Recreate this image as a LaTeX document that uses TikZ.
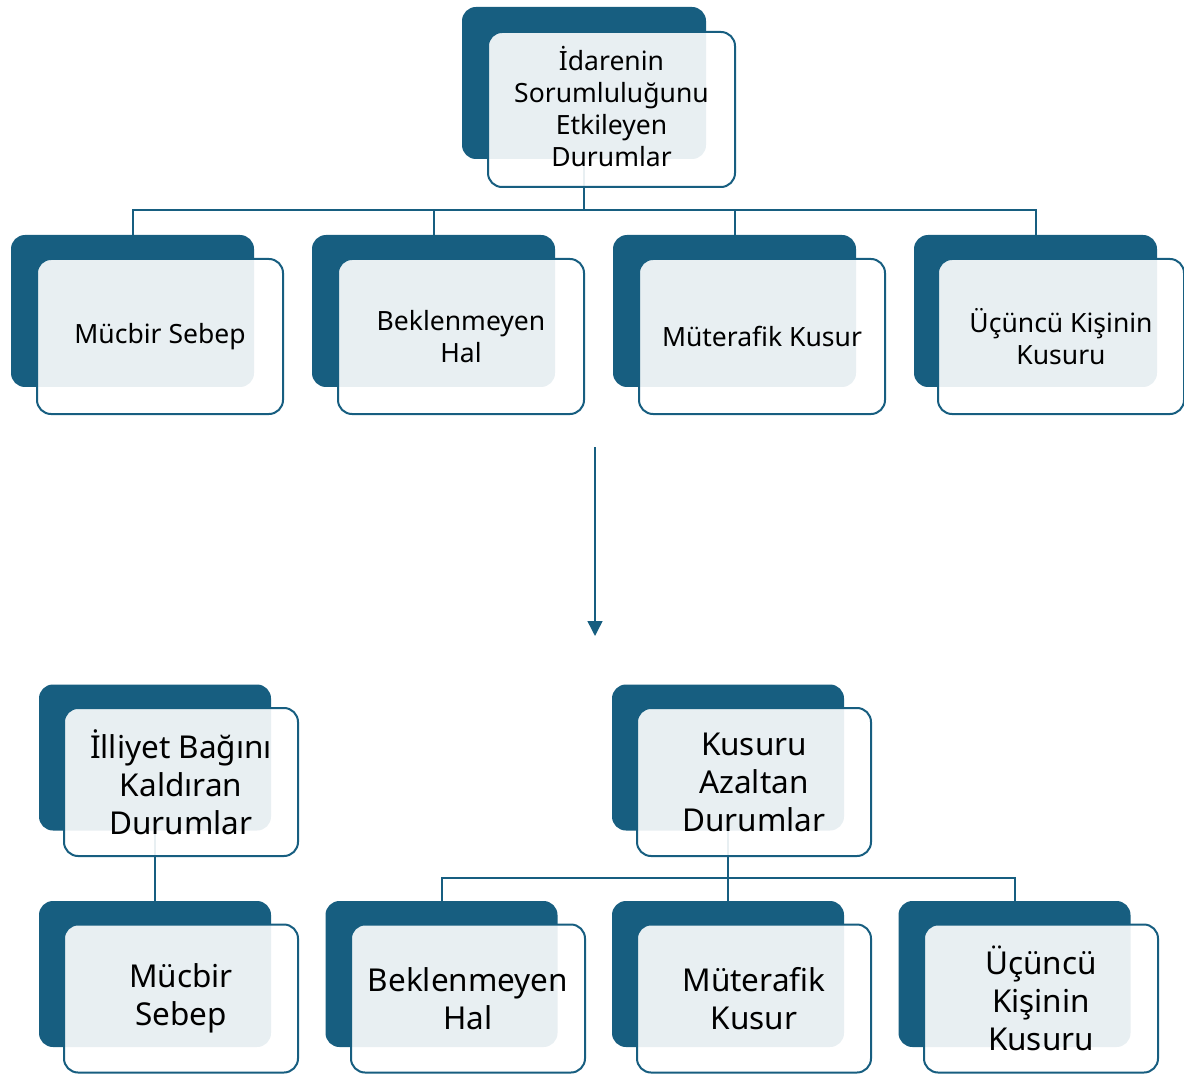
\documentclass[tikz,border=0pt]{standalone}
\usepackage{fontspec}
\setmainfont{Noto Sans}
\usetikzlibrary{arrows.meta}
\definecolor{darkteal}{RGB}{23,94,128}
\tikzset{
  back/.style={rectangle, rounded corners=14pt, fill=darkteal, inner sep=0pt},
  front/.style={rectangle, rounded corners=14pt, draw=darkteal, line width=2pt, fill=white, fill opacity=0.9, text opacity=1, align=center, inner sep=0pt},
  bigA/.style={minimum width=243pt, minimum height=152pt},
  bigB/.style={minimum width=246pt, minimum height=155pt, font=\fontsize{26.5}{32}\selectfont},
  smA/.style={minimum width=232pt, minimum height=146pt},
  smB/.style={minimum width=234pt, minimum height=148pt, font=\fontsize{31.5}{38}\selectfont},
  conn/.style={draw=darkteal, line width=2pt},
  label/.style={align=center, inner sep=0pt},
}
\begin{document}
\begin{tikzpicture}[x=1pt, y=-1pt]
\useasboundingbox (0,0) rectangle (1184,1075);
% coordinates for buses
\coordinate (bus1) at (584,210);
\coordinate (bus2) at (728,878);
% connectors first (behind)
\draw[conn] (584,83) -- (bus1);
\foreach \x in {132.5,433.5,734.5,1035.5} { \draw[conn] (bus1) -| (\x,311); }
\draw[conn] (155,757.5) -- (155,974);
\draw[conn] (728,757.5) -- (bus2);
\foreach \x in {441.5,728,1014.5} { \draw[conn] (bus2) -| (\x,974); }
% top
\node[back,minimum width=244pt,minimum height=152pt] (tb) at (584,83) {};
\node[front,minimum width=247pt,minimum height=155pt] (tf) at (611.5,109.5) {};
\node[label,font=\fontsize{26.5}{32}\selectfont] (tft) at (611.5,107) {İdarenin\\Sorumluluğunu\\Etkileyen\\Durumlar};
% row 1
\node[back,bigA] (a1b) at (132.5,311) {};
\node[front,bigB] (a1) at (160,336.5) {Mücbir Sebep};
\node[back,bigA] (a2b) at (433.5,311) {};
\node[front,bigB] (a2) at (461,336.5) {Beklenmeyen\\Hal};
\node[back,bigA] (a3b) at (734.5,311) {};
\node[front,bigB] (a3) at (762,336.5) {Müterafik Kusur};
\node[back,bigA] (a4b) at (1035.5,311) {};
\node[front,bigB] (a4) at (1061,336.5) {Üçüncü Kişinin\\Kusuru};
% arrow
\coordinate (arS) at (595,447);
\coordinate (arE) at (595,636);
\draw[darkteal, line width=1.5pt, -{Triangle[width=15pt,length=15pt]}] (arS) -- (arE);
% bottom left
\node[back,smA] (lpb) at (155,757.5) {};
\node[front,smB] (lp) at (181,782) {İlliyet Bağını\\Kaldıran\\Durumlar};
\node[back,smA] (lcb) at (155,974) {};
\node[front,smB] (lc) at (181,998.5) {Mücbir\\Sebep};
% bottom right
\node[back,smA] (rpb) at (728,757.5) {};
\node[front,smB] (rp) at (754,782) {Kusuru\\Azaltan\\Durumlar};
\node[back,smA] (r1b) at (441.5,974) {};
\node[front,smB] (r1) at (468,998.5) {Beklenmeyen\\Hal};
\node[back,smA] (r2b) at (728,974) {};
\node[front,smB] (r2) at (754,998.5) {Müterafik\\Kusur};
\node[back,smA] (r3b) at (1014.5,974) {};
\node[front,smB] (r3) at (1041,998.5) {Üçüncü\\Kişinin\\Kusuru};
\end{tikzpicture}
\end{document}
